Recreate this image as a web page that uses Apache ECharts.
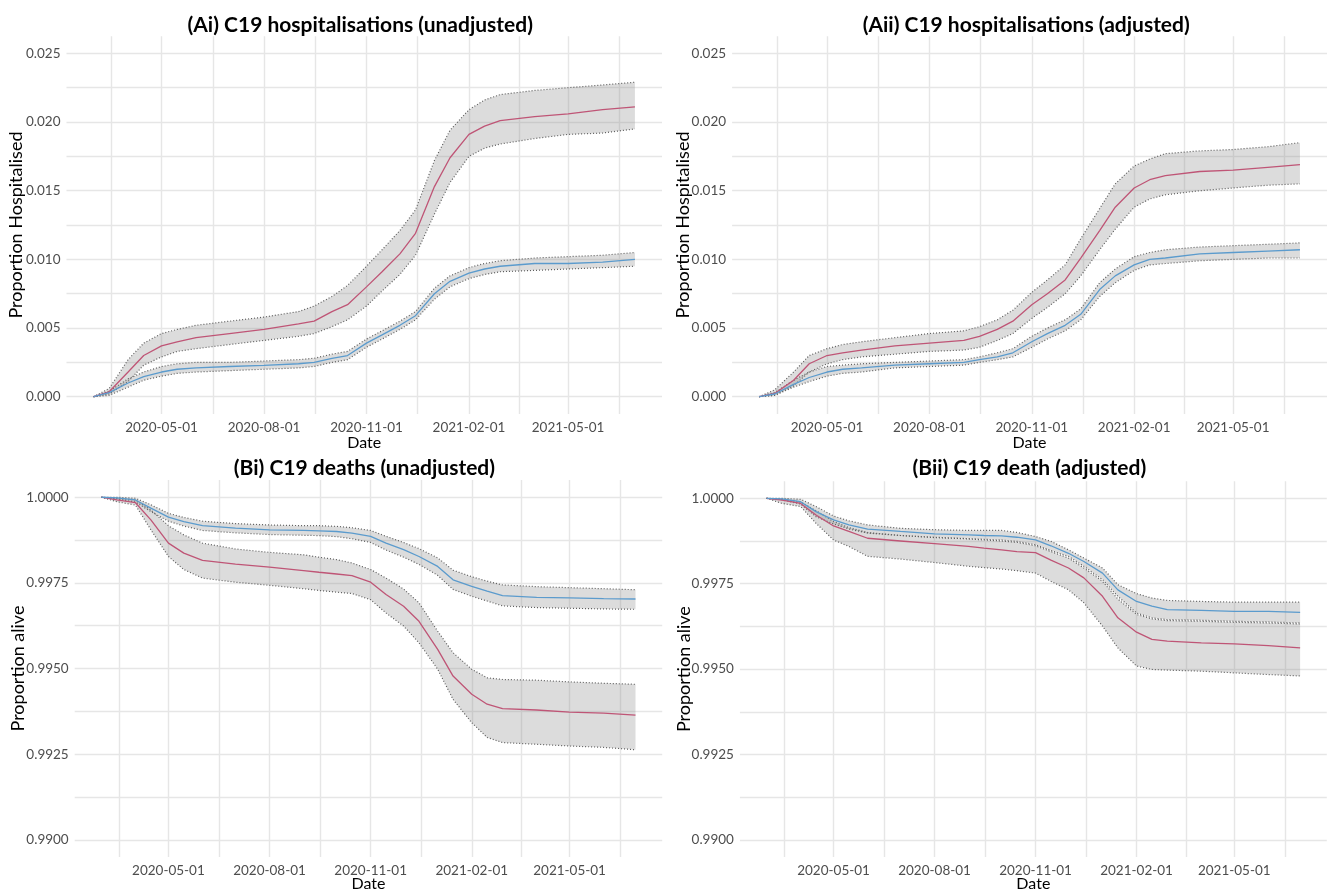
<!DOCTYPE html>
<html>
<head>
<meta charset="utf-8">
<title>C19 hospitalisations and deaths</title>
<script src="https://cdn.jsdelivr.net/npm/echarts@6/dist/echarts.min.js"></script>
<style>
  html, body { margin: 0; padding: 0; background: #fff; }
  #chart { width: 1327px; height: 893px; }
</style>
</head>
<body>
<div id="chart"></div>
<script>
// sample dates (shared by all four panels)
const dates = ['2020-03-01', '2020-03-15', '2020-04-01', '2020-04-15', '2020-05-01', '2020-05-15', '2020-06-01',
  '2020-07-01', '2020-08-01', '2020-09-01', '2020-09-15', '2020-10-01', '2020-10-15', '2020-11-01', '2020-11-15',
  '2020-12-01', '2020-12-15', '2021-01-01', '2021-01-15', '2021-02-01', '2021-02-15', '2021-03-01', '2021-04-01',
  '2021-05-01', '2021-06-01', '2021-06-30']

// (Ai) hospitalisations, unadjusted
const aiRed = [0, 0.00036, 0.0018, 0.0030, 0.0037, 0.0040, 0.0043, 0.0046, 0.0049, 0.0053, 0.0055, 0.0062, 0.0067, 0.0080, 0.0091, 0.0104, 0.0119, 0.0153, 0.0174, 0.0191, 0.0197, 0.0201, 0.0204, 0.0206, 0.0209, 0.0211]
const aiRedHi = [0, 0.0006, 0.0027, 0.0039, 0.0046, 0.0049, 0.0052, 0.0055, 0.0058, 0.0062, 0.0066, 0.0073, 0.0081, 0.0095, 0.0107, 0.0121, 0.0136, 0.0172, 0.0194, 0.0209, 0.0216, 0.0220, 0.0223, 0.0225, 0.0227, 0.0229]
const aiRedLo = [0, 0.0002, 0.0011, 0.0023, 0.0029, 0.0033, 0.0035, 0.0038, 0.0041, 0.0044, 0.0046, 0.0051, 0.0056, 0.0066, 0.0077, 0.0089, 0.0103, 0.0133, 0.0156, 0.0175, 0.0181, 0.0184, 0.0188, 0.0191, 0.0192, 0.0195]
const aiBlue = [0, 0.0003, 0.0010, 0.00146, 0.0018, 0.0020, 0.0021, 0.0022, 0.00228, 0.0024, 0.0025, 0.0028, 0.0030, 0.0039, 0.0045, 0.0052, 0.0059, 0.0075, 0.0084, 0.0090, 0.0093, 0.0095, 0.0097, 0.0097, 0.0098, 0.0100]
const aiBlueHi = [0, 0.0004, 0.0013, 0.0018, 0.0022, 0.0024, 0.0025, 0.0025, 0.0026, 0.0027, 0.0028, 0.0031, 0.0033, 0.0042, 0.0048, 0.0055, 0.0062, 0.0079, 0.0088, 0.0094, 0.0097, 0.0099, 0.0101, 0.0102, 0.0103, 0.0105]
const aiBlueLo = [0, 0.0001, 0.0007, 0.0012, 0.0015, 0.0017, 0.0018, 0.0019, 0.0020, 0.0021, 0.0022, 0.0025, 0.0027, 0.0036, 0.0042, 0.0049, 0.0056, 0.0071, 0.0080, 0.0086, 0.0089, 0.0091, 0.0092, 0.0093, 0.0094, 0.0095]

// (Aii) hospitalisations, adjusted
const aiiRed = [0, 0.00024, 0.0012, 0.0024, 0.0030, 0.0032, 0.0034, 0.0037, 0.0039, 0.0041, 0.0044, 0.0049, 0.0055, 0.0067, 0.0075, 0.0085, 0.0101, 0.0121, 0.0138, 0.0152, 0.0158, 0.0161, 0.0164, 0.0165, 0.0167, 0.0169]
const aiiRedHi = [0, 0.0005, 0.0018, 0.0030, 0.0035, 0.0038, 0.0040, 0.0043, 0.0046, 0.0048, 0.0051, 0.0056, 0.0063, 0.0076, 0.0085, 0.0096, 0.0115, 0.0137, 0.0155, 0.0168, 0.0173, 0.0177, 0.0179, 0.0180, 0.0182, 0.0185]
const aiiRedLo = [0, 0.0001, 0.0008, 0.0018, 0.0024, 0.0027, 0.0029, 0.0031, 0.0033, 0.0034, 0.0036, 0.0041, 0.0046, 0.0057, 0.0065, 0.0075, 0.0088, 0.0107, 0.0122, 0.0138, 0.0144, 0.0147, 0.0150, 0.0152, 0.0154, 0.0155]
const aiiBlue = [0, 0.0002, 0.0009, 0.0014, 0.0018, 0.0020, 0.0021, 0.0023, 0.0024, 0.0025, 0.0027, 0.0029, 0.0032, 0.0040, 0.0046, 0.0052, 0.0060, 0.0078, 0.0088, 0.0096, 0.0100, 0.0101, 0.0104, 0.0105, 0.0106, 0.0107]
const aiiBlueHi = [0, 0.0003, 0.0012, 0.0018, 0.0022, 0.0023, 0.0024, 0.0025, 0.0026, 0.0027, 0.0029, 0.0032, 0.0035, 0.0044, 0.0050, 0.0056, 0.0064, 0.0083, 0.0093, 0.0102, 0.0105, 0.0107, 0.0109, 0.0110, 0.0111, 0.0112]
const aiiBlueLo = [0, 0.0001, 0.0007, 0.0011, 0.0015, 0.0017, 0.0018, 0.0021, 0.0022, 0.0023, 0.0025, 0.0027, 0.0029, 0.0036, 0.0042, 0.0048, 0.0056, 0.0073, 0.0083, 0.0092, 0.0096, 0.0097, 0.0099, 0.0100, 0.0101, 0.0101]

// (Bi) deaths, unadjusted
const biRed = [1.0, 0.99992, 0.99984, 0.99934, 0.99866, 0.99837, 0.99816, 0.99805, 0.99796, 0.99786, 0.99781, 0.99776, 0.99771, 0.99752, 0.99716, 0.99682, 0.99638, 0.99556, 0.99478, 0.99425, 0.99396, 0.99383, 0.99379, 0.99373, 0.99370, 0.99364]
const biRedHi = [1.0, 0.99997, 0.99992, 0.99963, 0.99917, 0.99890, 0.99866, 0.99849, 0.99839, 0.99832, 0.99825, 0.99818, 0.99808, 0.99789, 0.99764, 0.99732, 0.99692, 0.99609, 0.99546, 0.99498, 0.99473, 0.99468, 0.99466, 0.99461, 0.99457, 0.99454]
const biRedLo = [1.0, 0.99987, 0.99977, 0.99905, 0.99827, 0.99789, 0.99764, 0.99752, 0.99743, 0.99733, 0.99728, 0.99723, 0.99719, 0.99701, 0.99662, 0.99624, 0.99575, 0.99498, 0.99410, 0.99342, 0.99299, 0.99284, 0.99279, 0.99274, 0.99270, 0.99263]
const biBlue = [1.0, 0.99998, 0.99992, 0.99968, 0.99942, 0.99929, 0.99917, 0.99910, 0.99905, 0.99903, 0.99902, 0.99900, 0.99895, 0.99886, 0.99866, 0.99847, 0.99827, 0.99798, 0.99759, 0.99740, 0.99726, 0.99713, 0.99708, 0.99706, 0.99704, 0.99703]
const biBlueHi = [1.0, 1.0, 0.99997, 0.99978, 0.99953, 0.99941, 0.99930, 0.99923, 0.99919, 0.99917, 0.99917, 0.99915, 0.99911, 0.99903, 0.99886, 0.99868, 0.99850, 0.99823, 0.99787, 0.99768, 0.99755, 0.99744, 0.99739, 0.99736, 0.99733, 0.99730]
const biBlueLo = [1.0, 0.99995, 0.99986, 0.99958, 0.99930, 0.99916, 0.99903, 0.99896, 0.99891, 0.99889, 0.99888, 0.99885, 0.99879, 0.99868, 0.99846, 0.99825, 0.99804, 0.99772, 0.99731, 0.99711, 0.99697, 0.99683, 0.99678, 0.99676, 0.99674, 0.99673]

// (Bii) deaths, adjusted
const biiRed = [1.0, 0.99995, 0.99985, 0.99951, 0.99919, 0.99903, 0.99883, 0.99875, 0.99867, 0.99859, 0.99854, 0.99849, 0.99844, 0.99841, 0.99819, 0.99796, 0.99767, 0.99713, 0.99650, 0.99608, 0.99587, 0.99582, 0.99577, 0.99574, 0.99569, 0.99562]
const biiRedHi = [1.0, 0.99997, 0.99989, 0.99964, 0.99932, 0.99914, 0.99900, 0.99891, 0.99885, 0.99881, 0.99878, 0.99875, 0.99871, 0.99861, 0.99844, 0.99825, 0.99796, 0.99757, 0.99705, 0.99660, 0.99647, 0.99642, 0.99640, 0.99637, 0.99635, 0.99632]
const biiRedLo = [1.0, 0.99985, 0.99976, 0.99927, 0.99878, 0.99859, 0.99830, 0.99822, 0.99812, 0.99801, 0.99797, 0.99793, 0.99788, 0.99781, 0.99757, 0.99732, 0.99694, 0.99626, 0.99562, 0.99509, 0.99499, 0.99497, 0.99494, 0.99489, 0.99484, 0.99480]
const biiBlue = [1.0, 0.99998, 0.99990, 0.99961, 0.99937, 0.99922, 0.99910, 0.99903, 0.99896, 0.99893, 0.99891, 0.99890, 0.99886, 0.99878, 0.99861, 0.99839, 0.99815, 0.99781, 0.99732, 0.99698, 0.99684, 0.99674, 0.99672, 0.99669, 0.99669, 0.99666]
const biiBlueHi = [1.0, 1.0, 0.99997, 0.99976, 0.99948, 0.99934, 0.99922, 0.99912, 0.99908, 0.99906, 0.99906, 0.99906, 0.99900, 0.99888, 0.99874, 0.99849, 0.99825, 0.99796, 0.99747, 0.99721, 0.99708, 0.99701, 0.99698, 0.99696, 0.99696, 0.99696]
const biiBlueLo = [1.0, 0.99996, 0.99983, 0.99946, 0.99925, 0.99910, 0.99898, 0.99891, 0.99886, 0.99882, 0.99880, 0.99878, 0.99874, 0.99864, 0.99847, 0.99830, 0.99801, 0.99762, 0.99713, 0.99664, 0.99650, 0.99645, 0.99643, 0.99640, 0.99638, 0.99635]

// tick labels and grid lines
const xLabelDates = ['2020-05-01', '2020-08-01', '2020-11-01', '2021-02-01', '2021-05-01']
const xMinorDates = ['2020-03-17', '2020-06-16', '2020-09-16', '2020-12-17', '2021-03-18', '2021-06-16']
const yLabelsHosp = [0, 0.005, 0.010, 0.015, 0.020, 0.025]
const yGridHosp = [0, 0.0025, 0.005, 0.0075, 0.010, 0.0125, 0.015, 0.0175, 0.020, 0.0225, 0.025]
const yLabelsAlive = [0.9900, 0.9925, 0.9950, 0.9975, 1.0000]
const yGridAlive = [0.9900, 0.99125, 0.9925, 0.99375, 0.9950, 0.99625, 0.9975, 0.99875, 1.0000]

const titles = ['(Ai) C19 hospitalisations (unadjusted)', '(Aii) C19 hospitalisations (adjusted)',
  '(Bi) C19 deaths (unadjusted)', '(Bii) C19 death (adjusted)']

const RED = '#bf5576'
const BLUE = '#5b9bcd'
const BAND = 'rgba(140,140,140,0.3)'
const DOT = { color: '#5e5e5e', width: 1.2, type: [1, 2] }
const GRIDLINE = { color: '#e6e6e6', width: 1.4 }
const FONT = 'Lato, "Open Sans", sans-serif'

// panel layout: [left, top, width, height]
const grids = [
  [66.5, 36.2, 595.5, 377.7],
  [732.1, 36.2, 596.2, 377.7],
  [74.7, 480.1, 587.5, 378.1],
  [739.9, 481.2, 586.9, 376.9]
]
const yNameGaps = [41, 40, 48, 47]

// x is a plain value axis holding UTC timestamps
const toTime = d => Date.parse(d)
const t0 = toTime(dates[0])
const t1 = toTime(dates[dates.length - 1])
const pad = (t1 - t0) * 0.05
const xAll = xLabelDates.concat(xMinorDates).map(toTime).sort((a, b) => a - b)

function fmtDate(v) {
  const d = new Date(v)
  const p = n => (n < 10 ? '0' : '') + n
  return d.getUTCFullYear() + '-' + p(d.getUTCMonth() + 1) + '-' + p(d.getUTCDate())
}

function pairs(vals) {
  return dates.map((d, i) => [toTime(d), vals[i]])
}

// grey ribbon between lo and hi, drawn as one polygon through the axis scales
function ribbon(idx, lo, hi) {
  return {
    type: 'custom', xAxisIndex: idx, yAxisIndex: idx, z: 1,
    data: dates.map((d, i) => [toTime(d), lo[i], hi[i]]),
    encode: { x: 0, y: [1, 2] },
    renderItem: function (params, api) {
      if (params.dataIndex !== 0) return null
      const top = dates.map((d, i) => api.coord([toTime(d), hi[i]]))
      const bottom = dates.map((d, i) => api.coord([toTime(d), lo[i]])).reverse()
      return {
        type: 'polygon',
        shape: { points: top.concat(bottom) },
        style: { fill: BAND }
      }
    }
  }
}

function dotted(idx, vals) {
  return {
    type: 'line', xAxisIndex: idx, yAxisIndex: idx, symbol: 'none',
    lineStyle: DOT, data: pairs(vals), z: 2
  }
}

function line(idx, vals, color) {
  return {
    type: 'line', xAxisIndex: idx, yAxisIndex: idx, symbol: 'none',
    lineStyle: { color: color, width: 1.3 }, data: pairs(vals), z: 3
  }
}

function panel(idx, red, redLo, redHi, blue, blueLo, blueHi) {
  return [
    ribbon(idx, redLo, redHi), ribbon(idx, blueLo, blueHi),
    dotted(idx, redLo), dotted(idx, redHi), dotted(idx, blueLo), dotted(idx, blueHi),
    line(idx, red, RED), line(idx, blue, BLUE)
  ]
}

const option = {
  animation: false,
  backgroundColor: '#fff',
  title: titles.map((t, i) => ({
    text: t,
    left: grids[i][0] + grids[i][2] / 2 - 4,
    top: i < 2 ? 15 : 458,
    textAlign: 'center',
    padding: 0,
    textStyle: { fontFamily: FONT, fontWeight: 'bold', fontSize: 21, color: '#000' }
  })),
  grid: grids.map(g => ({ left: g[0], top: g[1], width: g[2], height: g[3], containLabel: false })),
  xAxis: grids.map((g, i) => ({
    type: 'value',
    gridIndex: i,
    min: t0 - pad,
    max: t1 + pad,
    name: 'Date',
    nameLocation: 'middle',
    nameGap: i < 2 ? 21 : 19,
    nameMoveOverlap: false,
    nameTextStyle: { fontFamily: FONT, fontSize: 16, color: '#000' },
    axisLine: { show: false },
    axisTick: { show: false, customValues: xAll },
    splitLine: { show: true, lineStyle: GRIDLINE },
    axisLabel: {
      customValues: xLabelDates.map(toTime), margin: 7, fontFamily: FONT, fontSize: 13.5, color: '#4d4d4d',
      formatter: v => fmtDate(v), hideOverlap: false, showMinLabel: true, showMaxLabel: true
    }
  })),
  yAxis: grids.map((g, i) => {
    const hosp = i < 2
    return {
      type: 'value',
      gridIndex: i,
      min: hosp ? -0.00125 : 0.9895,
      max: hosp ? 0.02625 : 1.0005,
      name: hosp ? 'Proportion Hospitalised' : 'Proportion alive',
      nameLocation: 'middle',
      nameGap: yNameGaps[i],
      nameMoveOverlap: false,
      nameTextStyle: { fontFamily: FONT, fontSize: 18, color: '#000' },
      axisLine: { show: false },
      axisTick: { show: false, customValues: hosp ? yGridHosp : yGridAlive },
      splitLine: { show: true, lineStyle: GRIDLINE },
      axisLabel: {
        customValues: hosp ? yLabelsHosp : yLabelsAlive, margin: 6, fontFamily: FONT, fontSize: 13.5,
        color: '#4d4d4d', formatter: v => v.toFixed(hosp ? 3 : 4)
      }
    }
  }),
  series: [
    ...panel(0, aiRed, aiRedLo, aiRedHi, aiBlue, aiBlueLo, aiBlueHi),
    ...panel(1, aiiRed, aiiRedLo, aiiRedHi, aiiBlue, aiiBlueLo, aiiBlueHi),
    ...panel(2, biRed, biRedLo, biRedHi, biBlue, biBlueLo, biBlueHi),
    ...panel(3, biiRed, biiRedLo, biiRedHi, biiBlue, biiBlueLo, biiBlueHi)
  ]
}

const myChart = echarts.init(document.getElementById('chart'))
myChart.setOption(option)
</script>
</body>
</html>
